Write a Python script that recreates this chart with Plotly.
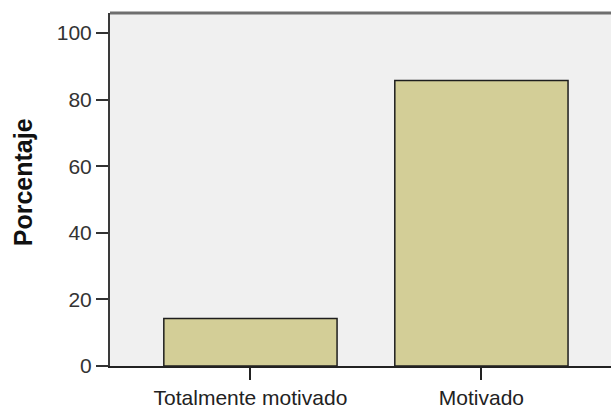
import plotly.graph_objects as go

# datos
categorias = ['Totalmente motivado', 'Motivado']
porcentajes = [14.3, 85.7]
ticks_y = [0, 20, 40, 60, 80, 100]

fig = go.Figure()

fig.add_trace(go.Bar(
    x=[0, 1],
    y=porcentajes,
    width=0.75,
    marker=dict(color='#D3CE97', line=dict(color='#1e1e1e', width=1.5)),
    hoverinfo='skip'
))

# borde superior del area del grafico (estilo SPSS)
fig.add_shape(type='line', xref='paper', yref='paper', x0=0, x1=1, y0=1, y1=1,
              line=dict(color='#6e6e6e', width=3))

# titulo del eje Y
fig.add_annotation(text='<b>Porcentaje</b>', textangle=-90,
                   xref='paper', yref='paper', x=-0.172, y=0.52,
                   xanchor='center', yanchor='middle', showarrow=False,
                   font=dict(size=25, color='#111111'))

fig.update_layout(
    width=611, height=409,
    margin=dict(l=110, r=0, t=13, b=41),
    paper_bgcolor='white',
    plot_bgcolor='#F0F0F0',
    showlegend=False,
    font=dict(family='Liberation Sans, Arial, sans-serif', color='#222222'),
    xaxis=dict(
        range=[-0.608, 1.561],
        tickmode='array', tickvals=[0, 1], ticktext=categorias,
        ticks='outside', ticklen=12, tickwidth=1.5, tickcolor='#222222',
        showline=True, linecolor='#222222', linewidth=1.5,
        showgrid=False, zeroline=False,
        tickfont=dict(size=21, color='#222222')
    ),
    yaxis=dict(
        range=[0, 106],
        tickmode='array', tickvals=ticks_y,
        ticks='outside', ticklen=12, tickwidth=1.5, tickcolor='#333333',
        showline=True, linecolor='#3a3a3a', linewidth=2,
        showgrid=False, zeroline=False,
        tickfont=dict(size=21, color='#333333')
    )
)

# sin margen en el body para que el grafico ocupe toda la ventana
fig.write_html('out.html', config={'displayModeBar': False},
               post_script="document.body.style.margin='0';")
